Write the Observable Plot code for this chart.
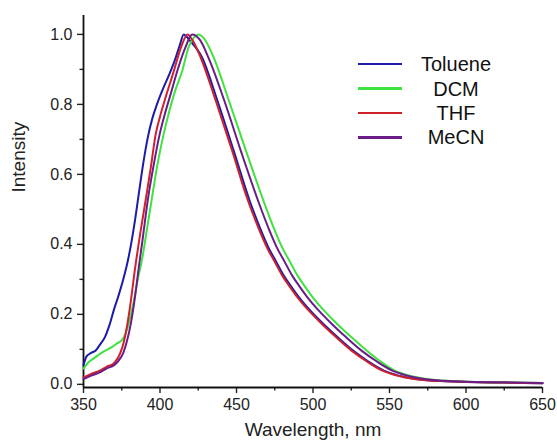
<!DOCTYPE html>
<html>
<head>
<meta charset="utf-8">
<script src="https://cdn.jsdelivr.net/npm/d3@7"></script>
<script src="https://cdn.jsdelivr.net/npm/@observablehq/plot@0.6"></script>
<style>
  body { margin: 0; background: #fff; }
  #wrap { position: relative; width: 557px; height: 447px; }
  #legend { position: absolute; left: 358px; top: 52px; font-family: "Liberation Sans", Arial, sans-serif; font-size: 20px; color: #111; }
  .row { position: relative; height: 24.4px; display: flex; align-items: center; }
  .sw { width: 44px; height: 2.5px; }
  .lab { position: absolute; left: 98px; transform: translateX(-50%); white-space: nowrap; line-height: 1; }
</style>
</head>
<body>
<div id="wrap"><div id="legend"></div></div>
<script>
const solvents = ["Toluene", "DCM", "THF", "MeCN"];
const colors = ["#1c1ca8", "#3fe23f", "#d0202c", "#6a1d88"];

const tolueneWl = [350,352,355,358,361,364,367,370,373,376,379.5,383,386,389,392,395,398,402,406,410,413,415.5,419,427.5,437.5,448,458.5,466,471,476,481,486,491,498,506,516,526,536,546,556,566,581,601,626,650];
const tolueneI  = [0.055,0.08,0.09,0.097,0.115,0.135,0.17,0.215,0.255,0.30,0.364,0.45,0.54,0.63,0.705,0.76,0.80,0.845,0.885,0.93,0.97,1.0,0.985,0.934,0.811,0.67,0.526,0.44,0.39,0.35,0.31,0.278,0.248,0.212,0.176,0.135,0.097,0.066,0.040,0.025,0.016,0.010,0.007,0.005,0.003];

const dcmWl = [350,353.5,357,361,365,368.8,372,375,377,379,381,383,385.5,388.4,391,394.5,398,402.4,406,410,414.6,418.8,422,425,428.5,435,445,456,467.5,475,480,485,490,495,500,507,515,525,535,544,553,563,573,587,606,630,650];
const dcmI  = [0.045,0.064,0.075,0.088,0.098,0.107,0.117,0.126,0.14,0.165,0.2,0.24,0.30,0.36,0.43,0.526,0.62,0.715,0.78,0.84,0.897,0.965,0.99,1.0,0.99,0.935,0.811,0.67,0.526,0.44,0.39,0.35,0.31,0.278,0.248,0.212,0.176,0.135,0.097,0.066,0.040,0.025,0.016,0.010,0.007,0.005,0.004];

const thfWl = [350,355,361,365,369.7,372,374,376.4,378.6,381,383.5,386,390.6,394,397.2,400,404,409,413.5,418,421,426.6,436.4,447,457.4,465,470,475,480,485,490,497,505,515,525,535,545,555,565,580,600,625,650];
const thfI  = [0.02,0.03,0.04,0.05,0.06,0.072,0.089,0.122,0.17,0.24,0.325,0.40,0.526,0.62,0.715,0.765,0.825,0.895,0.96,1.0,0.985,0.934,0.811,0.67,0.526,0.44,0.39,0.35,0.31,0.278,0.248,0.212,0.176,0.135,0.097,0.066,0.040,0.025,0.016,0.010,0.007,0.005,0.003];

const mecnWl = [350,355,361,365,370,373,376,378.5,381,383.5,386,388.5,392,396,399.8,403,407,411.4,416.8,421,426,432,442,453,464,471.5,476.5,481.5,486.5,491.5,496.5,503.5,511.5,521.5,531.5,541.5,551.5,561.5,571.5,586,606,630,650];
const mecnI  = [0.015,0.025,0.035,0.045,0.055,0.068,0.09,0.125,0.175,0.245,0.33,0.41,0.526,0.63,0.715,0.77,0.83,0.897,0.965,1.0,0.985,0.93,0.811,0.665,0.526,0.44,0.39,0.35,0.31,0.278,0.248,0.212,0.176,0.135,0.097,0.066,0.040,0.025,0.016,0.010,0.007,0.005,0.004];

const yMajor = [0, 0.2, 0.4, 0.6, 0.8, 1.0];
const yMinor = [0.1, 0.3, 0.5, 0.7, 0.9];
const xMajor = [350, 400, 450, 500, 550, 600, 650];
const xMinor = [375, 425, 475, 525, 575, 625];

const series = [
  ["Toluene", tolueneWl, tolueneI],
  ["DCM", dcmWl, dcmI],
  ["THF", thfWl, thfI],
  ["MeCN", mecnWl, mecnI]
];
const data = series.flatMap(([s, w, v]) => w.map((x, i) => ({solvent: s, wl: x, I: v[i]})));

const font = "'Liberation Sans', Arial, sans-serif";
const chart = Plot.plot({
  width: 557, height: 447,
  marginLeft: 83, marginRight: 15, marginTop: 15, marginBottom: 60,
  x: {domain: [350, 650]},
  y: {domain: [-0.009, 1.054]},
  color: {domain: solvents, range: colors},
  style: {fontFamily: font, fontSize: "16px", color: "#222", background: "white"},
  marks: [
    Plot.axisY({ticks: yMajor, tickSize: 6, tickPadding: 5, tickFormat: d => d.toFixed(1), label: null, strokeWidth: 1.4, fontSize: 16}),
    Plot.axisY({ticks: yMinor, tickSize: 3.5, text: null, label: null, strokeWidth: 1.4}),
    Plot.axisX({ticks: xMajor, tickSize: 6, tickPadding: 5, label: null, strokeWidth: 1.4, fontSize: 16}),
    Plot.axisX({ticks: xMinor, tickSize: 3.5, text: null, label: null, strokeWidth: 1.4}),
    Plot.ruleX([350], {strokeWidth: 1.8, stroke: "#111"}),
    Plot.ruleY([-0.009], {strokeWidth: 1.8, stroke: "#111"}),
    Plot.line(data, {x: "wl", y: "I", z: "solvent", stroke: "solvent", curve: "monotone-x", strokeWidth: 2}),
    Plot.text(["Wavelength, nm"], {frameAnchor: "bottom", dy: 48, fontSize: 19, fill: "#222"}),
    Plot.text(["Intensity"], {frameAnchor: "left", dx: -65, dy: -9, rotate: -90, fontSize: 19, fill: "#222"})
  ]
});
document.getElementById("wrap").prepend(chart);

const legend = document.getElementById("legend");
solvents.forEach((s, i) => {
  const row = document.createElement("div");
  row.className = "row";
  const sw = document.createElement("div");
  sw.className = "sw";
  sw.style.background = colors[i];
  const lab = document.createElement("span");
  lab.className = "lab";
  lab.textContent = s;
  row.append(sw, lab);
  legend.append(row);
});
</script>
</body>
</html>
